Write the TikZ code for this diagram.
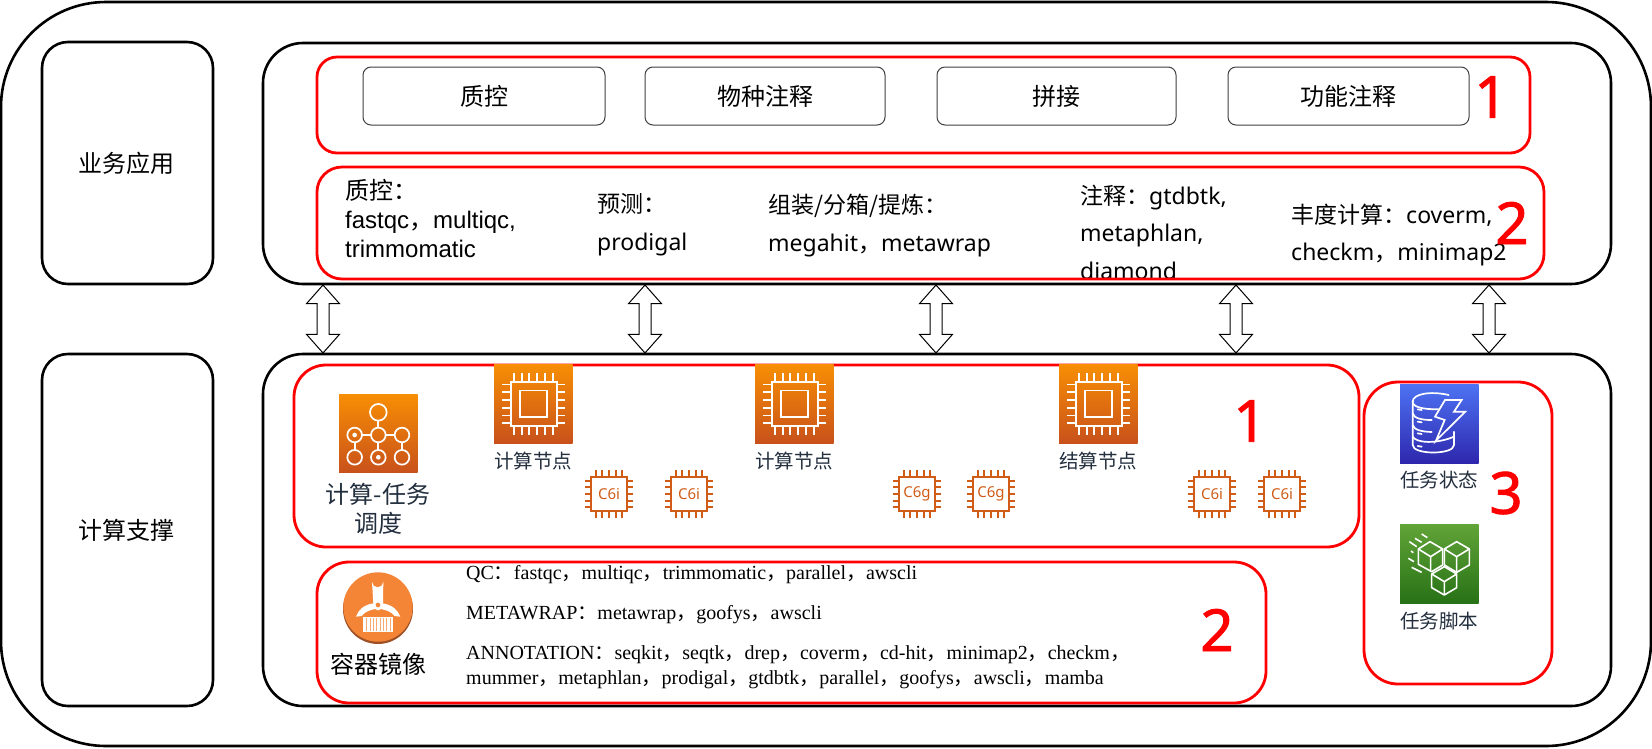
\documentclass[tikz,border=0pt]{standalone}
\usepackage{fontspec}
\setmainfont{Liberation Sans}
\newfontfamily\zhfont{Noto Sans CJK SC}
\newfontfamily\tmfont{Liberation Serif}
\newfontfamily\numfont[FakeBold=1.6]{Noto Sans}
\newfontfamily\latfont{Noto Sans}
\newcommand{\zh}[1]{{\zhfont #1}}
\usetikzlibrary{shapes.arrows}
\definecolor{awsink}{HTML}{232F3E}
\definecolor{chipc}{HTML}{D05C17}
\definecolor{redbox}{HTML}{FF0000}
\definecolor{orangetop}{HTML}{F78E04}
\definecolor{orangebot}{HTML}{C8511B}
\definecolor{bluetop}{HTML}{4D72F3}
\definecolor{bluebot}{HTML}{2E27AD}
\definecolor{greentop}{HTML}{60A337}
\definecolor{greenbot}{HTML}{277116}
\definecolor{discc}{HTML}{F58536}
\definecolor{rimc}{HTML}{9D5025}
\tikzset{
  x=1pt,y=-1pt,
  panel/.style={draw=black,line width=2.6pt,fill=white},
  redpanel/.style={draw=redbox,line width=2.8pt},
  task/.style={draw=black!75,line width=1pt,rounded corners=8pt,fill=white},
  boxlabel/.style={inner sep=0pt,font=\fontsize{24}{29}\selectfont\zhfont},
  tool/.style={inner sep=0pt,anchor=west,align=left},
  tm/.style={inner sep=0pt,anchor=west,align=left,font=\fontsize{20}{25.5}\selectfont\tmfont},
  bignum/.style={inner sep=0pt,text=redbox,font=\fontsize{58}{60}\selectfont\numfont},
  iconlabel/.style={inner sep=0pt,text=awsink,font=\fontsize{19.5}{24}\selectfont\zhfont},
  dblarrow/.style={draw=black,line width=1pt,fill=white,shape=double arrow,rotate=90,
    minimum height=68pt,inner xsep=0pt,inner ysep=5.5pt,
    double arrow head extend=10.5pt,double arrow tip angle=83},
  cpuicon/.pic={
    \begin{scope}[x=0.3333pt,y=-0.3333pt]
      \shade[top color=orangetop,bottom color=orangebot] (0,0) rectangle (236,236);
      \draw[white,line width=1.9pt] (51,53) rectangle (188,184);
      \draw[white,line width=1.9pt] (78,78) rectangle (160,158);
      \foreach \d in {-58,-35,-12,12,35,58}{
        \draw[white,line width=1.9pt] (118+\d,25) -- (118+\d,48);
        \draw[white,line width=1.9pt] (118+\d,188) -- (118+\d,211);
        \draw[white,line width=1.9pt] (25,118+\d) -- (48,118+\d);
        \draw[white,line width=1.9pt] (191,118+\d) -- (213,118+\d);
      }
    \end{scope}
  },
  chip/.pic={
    \begin{scope}[x=0.3333pt,y=-0.3333pt]
      \draw[chipc,line width=1.9pt] (-53,-52) rectangle (53,52);
      \foreach \d in {-40,-20,0,20,40}{
        \draw[chipc,line width=1.7pt] (\d,-72) -- (\d,-52);
        \draw[chipc,line width=1.7pt] (\d,52) -- (\d,72);
        \draw[chipc,line width=1.7pt] (-72,\d) -- (-53,\d);
        \draw[chipc,line width=1.7pt] (53,\d) -- (72,\d);
      }
      \node[inner sep=0pt,text=chipc,font=\fontsize{15}{16}\selectfont\latfont] {\tikzpictext};
    \end{scope}
  },
}
\begin{document}
\begin{tikzpicture}
\useasboundingbox (0,0) rectangle (1652,748);
\fill[white] (0,0) rectangle (1652,748);
% frames
\draw[panel,rounded corners=105pt] (1,2) rectangle (1651,746);
\draw[panel,rounded corners=26pt] (42,42) rectangle (213,284);
\draw[panel,rounded corners=26pt] (42,354) rectangle (213,706);
\node[boxlabel] (biz) at (126,163) {业务应用};
\node[boxlabel] (cmp) at (126,530) {计算支撑};
\draw[panel,rounded corners=40pt] (263,43) rectangle (1611,284);
\draw[panel,rounded corners=40pt] (263,354) rectangle (1611,706);
% double arrows
\node[dblarrow] (a1) at (323,319) {};
\node[dblarrow] (a2) at (645,319) {};
\node[dblarrow] (a3) at (936,319) {};
\node[dblarrow] (a4) at (1236,319) {};
\node[dblarrow] (a5) at (1489,319) {};
% top row
\draw[redpanel,rounded corners=20pt] (317,57) rectangle (1530,153);
\draw[task] (363,67) rectangle (605,125);
\draw[task] (645,67) rectangle (885,125);
\draw[task] (937,67) rectangle (1176,125);
\draw[task] (1228,67) rectangle (1469,125);
\node[boxlabel] (t1) at (484,96) {质控};
\node[boxlabel] (t2) at (765,96) {物种注释};
\node[boxlabel] (t3) at (1056,96) {拼接};
\node[boxlabel] (t4) at (1348,96) {功能注释};
\node[bignum] (n1) at (1491,97) {1};
% tools
\node[tool,font=\fontsize{24}{29}\selectfont] (q1) at (345,219) {\zh{质控：}\\fastqc\zh{，}multiqc,\\trimmomatic};
\node[tool,font=\fontsize{23}{38}\selectfont\latfont] (q2) at (597,224.5) {\zh{预测：}\\prodigal};
\node[tool,font=\fontsize{23}{38}\selectfont\latfont] (q3) at (768,226) {\zh{组装/分箱/提炼：}\\megahit\zh{，}metawrap};
\node[tool,font=\fontsize{23}{37.5}\selectfont\latfont] (q4) at (1080,232) {\zh{注释：}gtdbtk,\\metaphlan,\\diamond};
\node[tool,font=\fontsize{23}{37}\selectfont\latfont] (q5) at (1291,235) {\zh{丰度计算：}coverm,\\checkm\zh{，}minimap2};
\draw[redpanel,rounded corners=25pt] (317,167) rectangle (1544,279);
\node[bignum] (n2) at (1512,223) {2};
% compute block
\draw[redpanel,rounded corners=32pt] (294,365) rectangle (1359,547);
\draw[redpanel,rounded corners=32pt] (317,562) rectangle (1266,703);
\draw[redpanel,rounded corners=34pt] (1364,382) rectangle (1552,684);
% orchestration icon
\begin{scope}[shift={(339,394.3)},x=0.3333pt,y=-0.3333pt]
  \shade[top color=orangetop,bottom color=orangebot] (0,0) rectangle (236,236);
  \begin{scope}[white,line width=1.7pt]
    \draw (118,54) circle[radius=25];
    \foreach \xx in {47,118,189}{
      \draw (\xx,122) circle[radius=22];
      \draw (\xx,189) circle[radius=22];
    }
    \draw (118,79) -- (118,100);
    \draw (69,122) -- (96,122) (140,122) -- (167,122);
    \draw (47,144) -- (47,167) (189,144) -- (189,167) (118,144) -- (118,167);
    \fill (47,122) circle[radius=7];
    \fill (118,189) circle[radius=7];
  \end{scope}
\end{scope}
\node[iconlabel,font=\fontsize{24}{29}\selectfont\zhfont,align=center] (sched) at (378,509) {计算-任务\\调度};
\pic at (494,364.5) {cpuicon};
\pic at (755,364.5) {cpuicon};
\pic at (1059,364.5) {cpuicon};
\node[iconlabel] (c1) at (533,461) {计算节点};
\node[iconlabel] (c2) at (794,461) {计算节点};
\node[iconlabel] (c3) at (1098,461) {结算节点};
\pic[pic text=C6i] at (609,494) {chip};
\pic[pic text=C6i] at (689,494) {chip};
\pic[pic text=C6g] at (917,494) {chip};
\pic[pic text=C6g] at (991,494) {chip};
\pic[pic text=C6i] at (1212,494) {chip};
\pic[pic text=C6i] at (1282,494) {chip};
\node[bignum] (n3) at (1250,421) {1};
% container icon
\begin{scope}[shift={(310,550)},x=0.3333pt,y=-0.3333pt]
  \fill[rimc] (204,177) circle[radius=105];
  \fill[discc] (204,171) circle[radius=104];
  \fill[white] (186,95) arc[start angle=180,end angle=0,radius=17] -- (219,160) -- (190,160) -- cycle;
  \fill[discc] (204,94) circle[radius=8];
  \fill[white] (204,165) circle[radius=16];
  \fill[discc] (204,165) circle[radius=7];
  \fill[white] (190,160) .. controls (160,165) and (145,180) .. (138,200) -- (155,198) .. controls (165,185) and (180,180) .. (192,178) -- cycle;
  \fill[white] (218,160) .. controls (248,165) and (263,180) .. (271,200) -- (254,198) .. controls (244,185) and (228,180) .. (216,178) -- cycle;
  \fill[white] (160,200) rectangle (250,247);
  \foreach \xx in {170,180,190,200,210,220,230,240}{
    \draw[discc!70,line width=0.6pt] (\xx,203) -- (\xx,244);
  }
\end{scope}
\node[iconlabel,text=black,font=\fontsize{24}{29}\selectfont\zhfont] (img) at (378,664) {容器镜像};
\node[tm] (l1) at (466,575) {QC\zh{：}fastqc\zh{，}multiqc\zh{，}trimmomatic\zh{，}parallel\zh{，}awscli};
\node[tm] (l2) at (466,615) {METAWRAP\zh{：}metawrap\zh{，}goofys\zh{，}awscli};
\node[tm] (l3) at (466,667) {ANNOTATION\zh{：}seqkit\zh{，}seqtk\zh{，}drep\zh{，}coverm\zh{，}cd-hit\zh{，}minimap2\zh{，}checkm\zh{，}\\mummer\zh{，}metaphlan\zh{，}prodigal\zh{，}gtdbtk\zh{，}parallel\zh{，}goofys\zh{，}awscli\zh{，}mamba};
\node[bignum] (n4) at (1217,630) {2};
% database icon
\begin{scope}[shift={(1350,370)},x=0.3333pt,y=-0.3333pt]
  \shade[top color=bluetop,bottom color=bluebot] (150,44) rectangle (386,280);
  \begin{scope}[white,line width=1.7pt,line cap=round]
    \draw (296,75) .. controls (240,62) and (188,72) .. (188,95) .. controls (188,112) and (220,118) .. (265,118);
    \draw (188,95) -- (188,225) .. controls (188,255) and (312,255) .. (312,225) -- (312,185);
    \draw (188,130) .. controls (192,145) and (215,150) .. (245,150);
    \draw (188,165) .. controls (192,180) and (215,185) .. (245,186);
    \draw (188,200) .. controls (200,220) and (260,222) .. (312,200);
    \draw[line join=miter] (285,90) -- (335,90) -- (312,125) -- (346,125) -- (258,212) -- (284,150) -- (255,140) -- cycle;
    \draw (203,118) -- (215,120) (203,155) -- (215,157) (203,190) -- (215,192) (203,228) -- (215,230);
  \end{scope}
\end{scope}
\node[iconlabel] (s1) at (1439,480) {任务状态};
% cubes icon
\begin{scope}[shift={(1350,370)},x=0.3333pt,y=-0.3333pt]
  \shade[top color=greentop,bottom color=greenbot] (150,465) rectangle (386,701);
  \begin{scope}[white,line width=1.6pt,line join=round]
    \draw (240,515) -- (278,537) -- (278,585) -- (245,605) -- (205,583) -- (205,537) -- cycle;
    \draw (205,537) -- (242,560) -- (278,537) (242,560) -- (242,605);
    \draw (320,515) -- (358,537) -- (358,585) -- (320,607) -- (283,585) -- (283,537) -- cycle;
    \draw (283,537) -- (320,560) -- (358,537) (320,560) -- (320,607);
    \draw (283,590) -- (320,612) -- (320,653) -- (283,675) -- (245,653) -- (245,612) -- cycle;
    \draw (245,612) -- (283,635) -- (320,612) (283,635) -- (283,675);
    \draw (215,492) -- (232,503) (195,505) -- (215,517) (178,515) -- (200,530) (183,543) -- (190,548) (175,565) -- (192,575) (185,592) -- (215,607);
  \end{scope}
\end{scope}
\node[iconlabel] (s2) at (1439,621) {任务脚本};
\node[bignum] (n5) at (1506,493) {3};
\end{tikzpicture}
\end{document}
